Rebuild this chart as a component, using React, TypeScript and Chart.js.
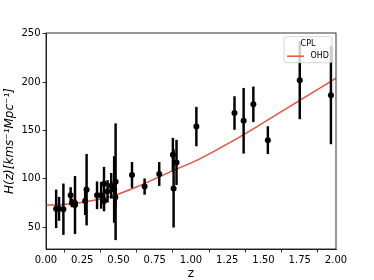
import React, { useEffect, useRef } from "react";
import { Chart, registerables } from "chart.js";

Chart.register(...registerables);

const zObs = [0.07, 0.09, 0.12, 0.17, 0.179, 0.199, 0.2, 0.27, 0.28, 0.352, 0.3802, 0.4, 0.4004, 0.4247, 0.4497, 0.47, 0.4783, 0.48, 0.593, 0.68, 0.781, 0.875, 0.88, 0.9, 1.037, 1.3, 1.363, 1.43, 1.53, 1.75, 1.965];
const hObs = [69, 69, 68.6, 83, 75, 75, 72.9, 77, 88.8, 83, 83, 95, 77, 87.1, 92.8, 89, 80.9, 97, 104, 92, 105, 125, 90, 117, 154, 168, 160, 177, 140, 202, 186.5];
const hErr = [19.6, 12, 26.2, 8, 4, 5, 29.6, 14, 36.6, 14, 13.5, 17, 10.2, 11.2, 12.9, 34, 9, 60, 13, 8, 12, 17, 40, 23, 20, 17, 33.6, 18, 14, 40, 50.4];

// Model curve
const zModel = [0, 0.1, 0.232, 0.439, 0.646, 0.853, 1.06, 1.267, 1.474, 1.75, 2.0];
const hModel = [72.8, 73.3, 75.2, 81.4, 93.0, 107.0, 120.7, 137.4, 155.7, 181.0, 204.0];

const xTicks = [0, 0.25, 0.5, 0.75, 1.0, 1.25, 1.5, 1.75, 2.0];
const yTicks = [50, 100, 150, 200, 250];

const legendTitle = "CPL";
const modelLabel = "OHD";
const xTitle = "z";
const yTitle = "H(z)[kms⁻¹Mpc⁻¹]";

const FONT = "DejaVu Sans";
const RED = "#e5533c";

const framePlugin = {
  id: "frameAndLegend",
  afterDraw(chart: any) {
    const { ctx, chartArea } = chart;
    const { left, top, right, bottom } = chartArea;
    ctx.save();
    ctx.strokeStyle = "#000";
    ctx.lineWidth = 0.8;
    ctx.strokeRect(left, top, right - left, bottom - top);

    // legend box
    const bx = right - 52;
    const by = top + 3.7;
    const bw = 48;
    const bh = 26;
    ctx.beginPath();
    if ((ctx as any).roundRect) (ctx as any).roundRect(bx, by, bw, bh, 2);
    else ctx.rect(bx, by, bw, bh);
    ctx.fillStyle = "rgba(255,255,255,0.8)";
    ctx.fill();
    ctx.strokeStyle = "#cccccc";
    ctx.lineWidth = 0.8;
    ctx.stroke();

    ctx.fillStyle = "#000";
    ctx.font = `8px "${FONT}"`;
    ctx.textBaseline = "middle";
    ctx.textAlign = "center";
    ctx.fillText(legendTitle, bx + 24, by + 7);

    const ds = chart.data.datasets.find((d: any) => d.label === modelLabel);
    ctx.strokeStyle = ds ? ds.borderColor : RED;
    ctx.lineWidth = 1.5;
    ctx.beginPath();
    ctx.moveTo(bx + 3, by + 19.5);
    ctx.lineTo(bx + 20, by + 19.5);
    ctx.stroke();

    ctx.textAlign = "left";
    ctx.fillText(modelLabel, bx + 26.5, by + 19.5);
    ctx.restore();
  },
};

export default function App() {
  const ref = useRef<HTMLCanvasElement>(null);
  useEffect(() => {
    document.body.style.margin = "0";
    const chart = new Chart(ref.current as HTMLCanvasElement, {
      type: "scatter",
      data: {
        datasets: [
          {
            type: "line",
            label: modelLabel,
            data: zModel.map((z, i) => ({ x: z, y: hModel[i] })),
            borderColor: RED,
            borderWidth: 1.5,
            pointRadius: 0,
            fill: false,
            cubicInterpolationMode: "monotone",
            order: 3,
          } as any,
          {
            type: "bar",
            label: "err",
            data: zObs.map((z, i) => ({ x: z, y: [hObs[i] - hErr[i], hObs[i] + hErr[i]] })),
            backgroundColor: "#000",
            borderWidth: 0,
            barThickness: 1.8,
            order: 2,
          } as any,
          {
            type: "scatter",
            label: "data",
            data: zObs.map((z, i) => ({ x: z, y: hObs[i] })),
            backgroundColor: "#000",
            borderWidth: 0,
            pointRadius: 3,
            order: 1,
          } as any,
        ],
      },
      options: {
        animation: false,
        responsive: false,
        devicePixelRatio: 1,
        layout: { padding: { top: 33, right: 38, left: 0, bottom: 0 } },
        plugins: { legend: { display: false }, tooltip: { enabled: false } },
        scales: {
          x: {
            type: "linear",
            min: 0,
            max: 2,
            offset: false,
            afterBuildTicks: (axis: any) => {
              axis.ticks = xTicks.map((v) => ({ value: v }));
            },
            afterFit: (axis: any) => {
              axis.height = 31;
            },
            ticks: {
              callback: (v: any) => Number(v).toFixed(2),
              font: { family: FONT, size: 10 },
              color: "#000",
              padding: 2,
              maxRotation: 0,
            },
            grid: { display: true, drawOnChartArea: false, drawTicks: true, tickLength: 3.5, color: "#000", lineWidth: 0.8 },
            border: { display: true, color: "#000", width: 0.8 },
            title: { display: true, text: xTitle, color: "#000", font: { family: FONT, size: 12, lineHeight: 1 }, padding: 0 },
          },
          y: {
            type: "linear",
            min: 27.5,
            max: 250.7,
            afterBuildTicks: (axis: any) => {
              axis.ticks = yTicks.map((v) => ({ value: v }));
            },
            afterFit: (axis: any) => {
              axis.width = 46;
            },
            ticks: {
              font: { family: FONT, size: 10 },
              color: "#000",
              padding: 2,
            },
            grid: { display: true, drawOnChartArea: false, drawTicks: true, tickLength: 3.5, color: "#000", lineWidth: 0.8 },
            border: { display: true, color: "#000", width: 0.8 },
            title: {
              display: true,
              text: yTitle,
              color: "#000",
              font: { family: FONT, size: 12, style: "italic" },
              padding: { top: 3, bottom: 0 },
            },
          },
        },
      } as any,
      plugins: [framePlugin],
    });
    return () => chart.destroy();
  }, []);
  return (
    <div style={{ width: 374, height: 280 }}>
      <canvas ref={ref} width={374} height={280} />
    </div>
  );
}
